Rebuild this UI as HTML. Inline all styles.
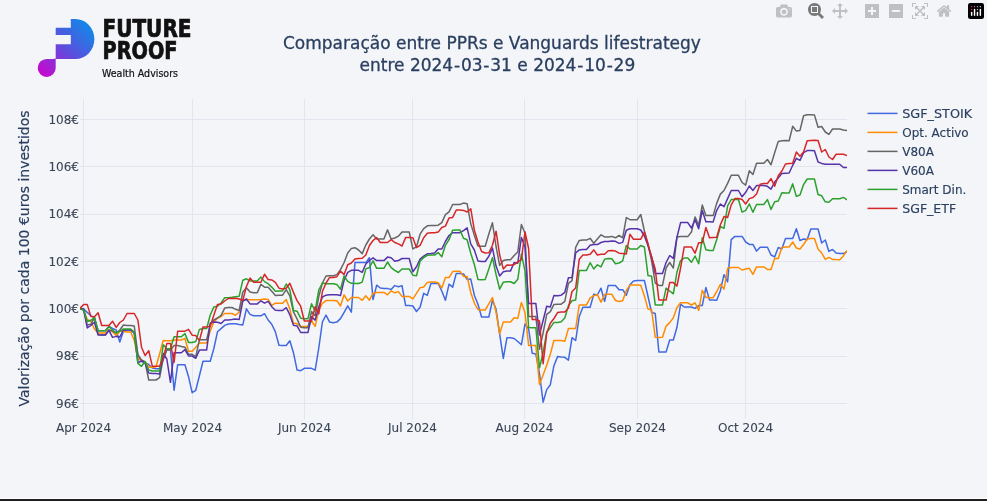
<!DOCTYPE html>
<html><head><meta charset="utf-8"><title>Comparação entre PPRs e Vanguards lifestrategy</title>
<style>
html,body{margin:0;padding:0;background:#f4f5f9;overflow:hidden}
svg{display:block}
.t{font-family:"DejaVu Sans","Liberation Sans",sans-serif}
</style></head><body>
<svg width="987" height="501" viewBox="0 0 987 501">
<defs>
<linearGradient id="lg" gradientUnits="userSpaceOnUse" x1="94" y1="19" x2="38" y2="77">
<stop offset="0" stop-color="#0096ea"/><stop offset="0.5" stop-color="#5b4fdd"/><stop offset="1" stop-color="#d400cc"/>
</linearGradient>
<clipPath id="pc"><rect x="80" y="99" width="767" height="320"/></clipPath>
</defs>
<rect x="0" y="0" width="987" height="501" fill="#f4f5f9"/>
<rect x="0" y="498" width="987" height="1" fill="#ffffff"/>
<rect x="0" y="499" width="987" height="2" fill="#1f1f1f"/>

<!-- logo -->
<g id="logo">
<path fill="url(#lg)" d="M70.8,19.1 H75.4 A19,19.95 0 0 1 75.4,59 H55.7 V44.3 H70.8 V34.9 H55.7 V27.8 H70.8 Z"/>
<path fill="url(#lg)" d="M55.7,58.4 V67.9 A9,9 0 1 1 46.7,58.9 H53 Z"/>
<text x="102.5" y="37" style="font-family:'DejaVu Sans Condensed','DejaVu Sans',sans-serif" font-weight="bold" font-size="24" fill="#111" stroke="#111" stroke-width="0.7" textLength="89" lengthAdjust="spacingAndGlyphs">FUTURE</text>
<text x="102.5" y="58.7" style="font-family:'DejaVu Sans Condensed','DejaVu Sans',sans-serif" font-weight="bold" font-size="24" fill="#111" stroke="#111" stroke-width="0.7" textLength="75" lengthAdjust="spacingAndGlyphs">PROOF</text>
<text x="102" y="76.5" style="font-family:'DejaVu Sans Condensed','DejaVu Sans',sans-serif" font-size="10" fill="#111" stroke="#111" stroke-width="0.2" textLength="76" lengthAdjust="spacingAndGlyphs">Wealth Advisors</text>
</g>

<!-- title -->
<g class="t" fill="#2a3f5f" stroke="#2a3f5f" stroke-width="0.3" font-size="17">
<text x="283" y="49">Comparação entre PPRs e Vanguards lifestrategy</text>
<text x="359.5" y="70.7">entre 2024<tspan dx="0.8">-</tspan><tspan dx="0.8">03</tspan><tspan dx="0.8">-</tspan><tspan dx="0.8">31 e 2024</tspan><tspan dx="0.8">-</tspan><tspan dx="0.8">10</tspan><tspan dx="0.8">-</tspan><tspan dx="0.8">29</tspan></text>
</g>

<!-- grid -->
<g stroke="#e2e5ee" stroke-width="1" fill="none">
<path d="M80,119.5H847M80,166.5H847M80,214.5H847M80,261.5H847M80,308.5H847M80,356.5H847M80,403.5H847"/>
<path d="M83.5,99V419M192.5,99V419M304.5,99V419M412.5,99V419M524.5,99V419M637.5,99V419M745.5,99V419"/>
</g>

<!-- y ticks -->
<g class="t" fill="#3b4556" stroke="#3b4556" stroke-width="0.1" font-size="12" text-anchor="end">
<text x="79" y="123.7">108€</text>
<text x="79" y="171">106€</text>
<text x="79" y="218.4">104€</text>
<text x="79" y="265.7">102€</text>
<text x="79" y="313">100€</text>
<text x="79" y="360.4">98€</text>
<text x="79" y="407.7">96€</text>
</g>
<!-- x ticks -->
<g class="t" fill="#3b4556" stroke="#3b4556" stroke-width="0.1" font-size="12" text-anchor="middle">
<text x="83.5" y="432">Apr 2024</text>
<text x="192.5" y="432">May 2024</text>
<text x="304.5" y="432">Jun 2024</text>
<text x="412.5" y="432">Jul 2024</text>
<text x="524.5" y="432">Aug 2024</text>
<text x="637.5" y="432">Sep 2024</text>
<text x="745.5" y="432">Oct 2024</text>
</g>
<!-- y title -->
<text class="t" fill="#2a3f5f" stroke="#2a3f5f" stroke-width="0.2" font-size="14" text-anchor="middle" transform="translate(29.4,258.5) rotate(-90)">Valorização por cada 100 €uros investidos</text>

<!-- traces -->
<g clip-path="url(#pc)" fill="none" stroke-width="1.5" stroke-linejoin="round">
<path d="M80.00,308.4 L83.62,309.0 L87.24,312.4 L90.85,315.6 L94.47,317.6 L98.09,330.7 L101.71,330.7 L105.33,330.7 L108.94,326.4 L112.56,328.5 L116.18,330.0 L119.80,342.0 L123.42,331.0 L127.03,330.0 L130.65,330.0 L134.27,333.0 L137.89,355.0 L141.50,361.0 L145.12,363.0 L148.74,364.5 L152.36,368.0 L155.98,368.7 L159.59,368.7 L163.21,360.0 L166.83,349.5 L170.45,349.5 L174.07,390.3 L177.68,364.7 L181.30,364.7 L184.92,364.7 L188.54,376.7 L192.16,392.7 L195.77,390.3 L199.39,375.7 L203.01,361.3 L206.63,361.3 L210.25,361.3 L213.86,348.5 L217.48,331.8 L221.10,328.6 L224.72,325.4 L228.33,324.0 L231.95,323.7 L235.57,323.7 L239.19,324.5 L242.81,324.9 L246.42,308.8 L250.04,314.4 L253.66,315.8 L257.28,315.8 L260.90,315.8 L264.51,313.7 L268.13,320.0 L271.75,324.2 L275.37,331.9 L278.99,345.3 L282.60,345.5 L286.22,345.5 L289.84,340.8 L293.46,352.7 L297.08,370.1 L300.69,370.7 L304.31,368.3 L307.93,368.3 L311.55,368.3 L315.17,370.1 L318.78,348.0 L322.40,322.0 L326.02,315.1 L329.64,322.1 L333.25,322.8 L336.87,322.1 L340.49,318.6 L344.11,312.3 L347.73,305.9 L351.34,312.2 L354.96,262.6 L358.58,262.6 L362.20,262.6 L365.82,262.6 L369.43,257.7 L373.05,299.6 L376.67,285.2 L380.29,288.0 L383.91,288.4 L387.52,288.4 L391.14,289.6 L394.76,285.6 L398.38,286.8 L402.00,285.6 L405.61,305.6 L409.23,305.6 L412.85,306.0 L416.47,311.5 L420.08,307.3 L423.70,293.3 L427.32,295.4 L430.94,283.5 L434.56,283.3 L438.17,283.5 L441.79,291.0 L445.41,300.3 L449.03,284.2 L452.65,287.2 L456.26,273.4 L459.88,273.4 L463.50,274.0 L467.12,279.4 L470.74,279.0 L474.35,295.2 L477.97,304.3 L481.59,317.0 L485.21,317.0 L488.83,317.0 L492.44,300.3 L496.06,309.3 L499.68,334.2 L503.30,358.4 L506.92,337.8 L510.53,337.8 L514.15,338.5 L517.77,341.5 L521.39,344.8 L525.00,324.0 L528.62,329.0 L532.24,353.3 L535.86,354.0 L539.48,373.5 L543.09,402.2 L546.71,389.6 L550.33,384.7 L553.95,365.7 L557.57,356.6 L561.18,357.0 L564.80,357.3 L568.42,360.1 L572.04,337.7 L575.66,340.5 L579.27,316.5 L582.89,307.3 L586.51,307.3 L590.13,307.3 L593.75,294.2 L597.36,295.0 L600.98,288.2 L604.60,301.3 L608.22,285.4 L611.83,285.4 L615.45,285.4 L619.07,289.7 L622.69,289.7 L626.31,295.3 L629.92,284.8 L633.54,280.9 L637.16,280.6 L640.78,280.6 L644.40,280.5 L648.01,296.5 L651.63,312.5 L655.25,313.5 L658.87,351.9 L662.49,351.9 L666.10,351.9 L669.72,340.0 L673.34,340.0 L676.96,327.3 L680.58,304.2 L684.19,307.0 L687.81,307.0 L691.43,307.0 L695.05,308.4 L698.67,305.6 L702.28,305.6 L705.90,287.5 L709.52,300.0 L713.14,300.0 L716.75,300.3 L720.37,290.7 L723.99,274.7 L727.61,281.9 L731.23,239.6 L734.84,236.4 L738.46,236.4 L742.08,236.4 L745.70,242.0 L749.32,244.4 L752.93,244.4 L756.55,251.1 L760.17,247.2 L763.79,247.2 L767.41,247.2 L771.02,255.0 L774.64,256.9 L778.26,247.5 L781.88,249.0 L785.50,238.5 L789.11,238.5 L792.73,238.5 L796.35,228.8 L799.97,240.5 L803.58,239.0 L807.20,239.5 L810.82,229.0 L814.44,229.0 L818.06,229.0 L821.67,243.0 L825.29,240.0 L828.91,251.4 L832.53,249.4 L836.15,253.1 L839.76,253.4 L843.38,253.4 L847.00,252.0" stroke="#4169e1"/>
<path d="M80.00,308.6 L83.62,310.0 L87.24,319.5 L90.85,321.5 L94.47,329.0 L98.09,333.1 L101.71,333.1 L105.33,333.1 L108.94,329.4 L112.56,332.0 L116.18,335.4 L119.80,331.0 L123.42,331.4 L127.03,332.0 L130.65,332.0 L134.27,340.0 L137.89,359.0 L141.50,360.3 L145.12,362.0 L148.74,367.0 L152.36,367.5 L155.98,366.8 L159.59,354.0 L163.21,340.4 L166.83,340.8 L170.45,340.8 L174.07,340.0 L177.68,340.0 L181.30,340.0 L184.92,338.4 L188.54,351.2 L192.16,351.2 L195.77,347.2 L199.39,343.0 L203.01,343.0 L206.63,343.0 L210.25,331.0 L213.86,322.0 L217.48,318.3 L221.10,316.5 L224.72,313.5 L228.33,313.5 L231.95,313.5 L235.57,315.2 L239.19,312.0 L242.81,299.7 L246.42,299.4 L250.04,299.7 L253.66,299.7 L257.28,299.7 L260.90,299.4 L264.51,299.0 L268.13,299.4 L271.75,305.3 L275.37,303.2 L278.99,303.3 L282.60,303.3 L286.22,299.6 L289.84,309.1 L293.46,323.1 L297.08,323.8 L300.69,326.4 L304.31,326.4 L307.93,326.4 L311.55,321.0 L315.17,326.4 L318.78,310.0 L322.40,303.5 L326.02,300.6 L329.64,300.4 L333.25,300.4 L336.87,300.8 L340.49,306.0 L344.11,294.8 L347.73,301.0 L351.34,297.5 L354.96,297.5 L358.58,297.5 L362.20,300.3 L365.82,295.8 L369.43,300.2 L373.05,293.2 L376.67,292.4 L380.29,292.4 L383.91,292.4 L387.52,294.8 L391.14,290.8 L394.76,292.8 L398.38,291.6 L402.00,296.4 L405.61,296.4 L409.23,296.4 L412.85,298.9 L416.47,293.3 L420.08,287.7 L423.70,287.0 L427.32,282.4 L430.94,281.9 L434.56,281.9 L438.17,282.8 L441.79,288.0 L445.41,277.6 L449.03,277.6 L452.65,271.6 L456.26,271.2 L459.88,271.2 L463.50,276.4 L467.12,276.4 L470.74,292.5 L474.35,303.1 L477.97,309.5 L481.59,310.0 L485.21,310.0 L488.83,303.8 L492.44,297.5 L496.06,312.1 L499.68,333.8 L503.30,321.9 L506.92,321.9 L510.53,321.9 L514.15,317.7 L517.77,318.4 L521.39,302.4 L525.00,312.8 L528.62,345.4 L532.24,345.6 L535.86,345.6 L539.48,384.5 L543.09,375.0 L546.71,365.2 L550.33,354.0 L553.95,340.5 L557.57,340.5 L561.18,340.5 L564.80,341.2 L568.42,328.6 L572.04,328.6 L575.66,328.6 L579.27,304.9 L582.89,304.9 L586.51,304.9 L590.13,297.8 L593.75,295.8 L597.36,294.6 L600.98,302.1 L604.60,294.6 L608.22,294.2 L611.83,294.3 L615.45,300.5 L619.07,301.5 L622.69,300.8 L626.31,290.4 L629.92,285.1 L633.54,285.1 L637.16,285.1 L640.78,285.3 L644.40,296.0 L648.01,309.1 L651.63,309.8 L655.25,337.2 L658.87,337.5 L662.49,337.2 L666.10,326.1 L669.72,322.6 L673.34,317.7 L676.96,307.5 L680.58,302.8 L684.19,302.8 L687.81,302.8 L691.43,305.0 L695.05,302.8 L698.67,310.5 L702.28,290.3 L705.90,297.2 L709.52,298.0 L713.14,297.5 L716.75,291.5 L720.37,284.3 L723.99,289.1 L727.61,268.3 L731.23,267.5 L734.84,267.5 L738.46,267.5 L742.08,270.0 L745.70,269.1 L749.32,268.3 L752.93,274.4 L756.55,266.9 L760.17,266.9 L763.79,266.9 L767.41,269.4 L771.02,269.4 L774.64,258.4 L778.26,258.4 L781.88,247.5 L785.50,247.0 L789.11,247.0 L792.73,242.0 L796.35,248.0 L799.97,249.0 L803.58,244.5 L807.20,239.0 L810.82,238.5 L814.44,238.5 L818.06,249.0 L821.67,253.0 L825.29,259.4 L828.91,257.4 L832.53,259.4 L836.15,259.6 L839.76,259.7 L843.38,255.9 L847.00,250.4" stroke="#ff8c00"/>
<path d="M80.00,308.6 L83.62,310.0 L87.24,325.1 L90.85,324.3 L94.47,317.7 L98.09,334.8 L101.71,335.1 L105.33,335.1 L108.94,330.3 L112.56,331.0 L116.18,333.0 L119.80,330.0 L123.42,325.0 L127.03,325.4 L130.65,325.4 L134.27,326.0 L137.89,355.0 L141.50,360.0 L145.12,362.0 L148.74,380.0 L152.36,380.0 L155.98,380.0 L159.59,377.7 L163.21,358.3 L166.83,350.0 L170.45,350.0 L174.07,345.6 L177.68,345.6 L181.30,346.4 L184.92,347.2 L188.54,354.3 L192.16,354.3 L195.77,356.7 L199.39,339.8 L203.01,339.8 L206.63,339.8 L210.25,324.6 L213.86,320.0 L217.48,318.0 L221.10,315.3 L224.72,308.1 L228.33,307.5 L231.95,307.5 L235.57,309.3 L239.19,310.5 L242.81,292.0 L246.42,287.8 L250.04,292.0 L253.66,292.7 L257.28,292.7 L260.90,284.4 L264.51,287.2 L268.13,287.2 L271.75,291.3 L275.37,295.5 L278.99,295.2 L282.60,295.2 L286.22,289.6 L289.84,295.8 L293.46,311.9 L297.08,318.9 L300.69,327.3 L304.31,327.8 L307.93,327.8 L311.55,311.5 L315.17,315.8 L318.78,296.6 L322.40,283.0 L326.02,276.0 L329.64,275.7 L333.25,275.7 L336.87,274.6 L340.49,269.7 L344.11,262.5 L347.73,253.0 L351.34,248.4 L354.96,247.7 L358.58,250.0 L362.20,253.6 L365.82,245.0 L369.43,239.0 L373.05,234.8 L376.67,239.0 L380.29,239.0 L383.91,239.0 L387.52,229.9 L391.14,239.0 L394.76,238.0 L398.38,236.2 L402.00,232.0 L405.61,232.0 L409.23,232.0 L412.85,248.9 L416.47,246.8 L420.08,234.2 L423.70,228.6 L427.32,225.8 L430.94,225.6 L434.56,225.6 L438.17,225.2 L441.79,222.6 L445.41,214.6 L449.03,211.8 L452.65,204.5 L456.26,204.5 L459.88,204.5 L463.50,203.1 L467.12,203.7 L470.74,223.6 L474.35,235.4 L477.97,245.9 L481.59,246.3 L485.21,246.3 L488.83,234.0 L492.44,222.8 L496.06,246.5 L499.68,265.4 L503.30,260.5 L506.92,259.7 L510.53,259.7 L514.15,255.5 L517.77,252.0 L521.39,224.5 L525.00,233.2 L528.62,316.6 L532.24,316.6 L535.86,316.6 L539.48,349.3 L543.09,333.0 L546.71,314.3 L550.33,311.6 L553.95,304.4 L557.57,304.2 L561.18,304.2 L564.80,301.4 L568.42,283.3 L572.04,280.7 L575.66,247.4 L579.27,240.4 L582.89,240.1 L586.51,240.1 L590.13,238.3 L593.75,243.2 L597.36,239.0 L600.98,234.8 L604.60,236.9 L608.22,236.9 L611.83,236.4 L615.45,237.8 L619.07,235.5 L622.69,237.8 L626.31,217.6 L629.92,219.7 L633.54,219.7 L637.16,219.7 L640.78,214.5 L644.40,231.0 L648.01,244.0 L651.63,261.0 L655.25,283.0 L658.87,285.4 L662.49,285.4 L666.10,268.0 L669.72,262.5 L673.34,268.1 L676.96,237.0 L680.58,236.6 L684.19,236.6 L687.81,236.6 L691.43,232.0 L695.05,216.9 L698.67,225.3 L702.28,205.0 L705.90,215.5 L709.52,215.5 L713.14,215.6 L716.75,203.1 L720.37,194.1 L723.99,190.5 L727.61,183.4 L731.23,175.3 L734.84,175.3 L738.46,175.3 L742.08,182.5 L745.70,185.1 L749.32,170.8 L752.93,174.5 L756.55,163.3 L760.17,163.3 L763.79,163.3 L767.41,159.5 L771.02,164.7 L774.64,152.8 L778.26,141.5 L781.88,140.8 L785.50,140.4 L789.11,140.8 L792.73,126.2 L796.35,131.1 L799.97,130.4 L803.58,115.7 L807.20,114.7 L810.82,114.7 L814.44,114.9 L818.06,127.3 L821.67,126.5 L825.29,132.0 L828.91,134.4 L832.53,129.0 L836.15,129.0 L839.76,129.0 L843.38,130.0 L847.00,130.4" stroke="#666666"/>
<path d="M80.00,308.4 L83.62,308.8 L87.24,327.9 L90.85,325.5 L94.47,322.3 L98.09,334.7 L101.71,335.1 L105.33,335.1 L108.94,330.3 L112.56,337.4 L116.18,336.4 L119.80,337.0 L123.42,330.0 L127.03,330.0 L130.65,330.0 L134.27,333.0 L137.89,362.7 L141.50,361.0 L145.12,363.0 L148.74,373.0 L152.36,373.5 L155.98,373.5 L159.59,374.0 L163.21,353.5 L166.83,359.0 L170.45,382.3 L174.07,352.7 L177.68,352.7 L181.30,352.7 L184.92,349.6 L188.54,356.0 L192.16,356.0 L195.77,358.3 L199.39,350.1 L203.01,350.1 L206.63,350.1 L210.25,323.0 L213.86,322.0 L217.48,322.2 L221.10,323.5 L224.72,320.0 L228.33,320.0 L231.95,319.5 L235.57,318.9 L239.19,319.4 L242.81,301.1 L246.42,299.0 L250.04,303.9 L253.66,303.9 L257.28,303.9 L260.90,300.8 L264.51,303.2 L268.13,301.4 L271.75,306.7 L275.37,310.2 L278.99,310.5 L282.60,310.5 L286.22,307.7 L289.84,314.7 L293.46,325.2 L297.08,325.9 L300.69,332.5 L304.31,332.5 L307.93,332.5 L311.55,316.8 L315.17,320.1 L318.78,307.0 L322.40,297.0 L326.02,295.2 L329.64,294.8 L333.25,294.8 L336.87,294.8 L340.49,295.5 L344.11,280.2 L347.73,272.4 L351.34,270.3 L354.96,270.3 L358.58,270.3 L362.20,272.4 L365.82,264.0 L369.43,260.5 L373.05,257.8 L376.67,260.6 L380.29,260.6 L383.91,260.6 L387.52,257.1 L391.14,257.8 L394.76,261.3 L398.38,260.6 L402.00,258.5 L405.61,258.5 L409.23,258.5 L412.85,271.7 L416.47,266.8 L420.08,259.1 L423.70,256.1 L427.32,253.8 L430.94,253.5 L434.56,253.1 L438.17,249.0 L441.79,249.0 L445.41,241.5 L449.03,235.5 L452.65,232.7 L456.26,232.7 L459.88,232.7 L463.50,230.6 L467.12,227.8 L470.74,243.9 L474.35,250.0 L477.97,261.0 L481.59,261.6 L485.21,261.5 L488.83,256.3 L492.44,248.0 L496.06,266.1 L499.68,275.9 L503.30,271.7 L506.92,271.0 L510.53,270.9 L514.15,262.5 L517.77,263.2 L521.39,237.4 L525.00,247.1 L528.62,303.6 L532.24,303.6 L535.86,303.6 L539.48,334.9 L543.09,320.5 L546.71,306.2 L550.33,307.0 L553.95,295.4 L557.57,295.8 L561.18,295.2 L564.80,292.4 L568.42,277.7 L572.04,277.5 L575.66,253.0 L579.27,249.9 L582.89,249.5 L586.51,249.5 L590.13,245.3 L593.75,244.6 L597.36,244.6 L600.98,242.5 L604.60,241.5 L608.22,241.5 L611.83,241.0 L615.45,241.3 L619.07,243.4 L622.69,242.4 L626.31,230.2 L629.92,228.8 L633.54,228.8 L637.16,228.8 L640.78,230.0 L644.40,236.0 L648.01,245.7 L651.63,256.9 L655.25,273.5 L658.87,273.5 L662.49,273.5 L666.10,262.5 L669.72,255.5 L673.34,258.3 L676.96,237.2 L680.58,222.6 L684.19,222.6 L687.81,222.6 L691.43,228.0 L695.05,219.7 L698.67,228.8 L702.28,210.6 L705.90,221.8 L709.52,221.8 L713.14,221.9 L716.75,210.3 L720.37,204.0 L723.99,206.7 L727.61,198.6 L731.23,190.5 L734.84,190.5 L738.46,190.5 L742.08,196.8 L745.70,192.3 L749.32,186.0 L752.93,190.5 L756.55,185.6 L760.17,185.6 L763.79,185.6 L767.41,186.3 L771.02,189.1 L774.64,182.1 L778.26,178.0 L781.88,173.4 L785.50,173.2 L789.11,173.0 L792.73,165.3 L796.35,158.3 L799.97,160.4 L803.58,152.7 L807.20,150.6 L810.82,150.6 L814.44,150.8 L818.06,162.0 L821.67,163.4 L825.29,164.3 L828.91,164.3 L832.53,164.3 L836.15,164.3 L839.76,164.3 L843.38,167.5 L847.00,167.5" stroke="#5533aa"/>
<path d="M80.00,308.8 L83.62,310.0 L87.24,321.5 L90.85,320.3 L94.47,317.6 L98.09,330.7 L101.71,330.7 L105.33,330.7 L108.94,326.4 L112.56,330.0 L116.18,333.0 L119.80,331.4 L123.42,329.0 L127.03,329.0 L130.65,329.0 L134.27,332.0 L137.89,363.3 L141.50,366.3 L145.12,361.5 L148.74,370.0 L152.36,371.0 L155.98,371.0 L159.59,371.0 L163.21,344.8 L166.83,348.8 L170.45,348.8 L174.07,336.8 L177.68,336.8 L181.30,336.8 L184.92,333.6 L188.54,342.4 L192.16,342.4 L195.77,341.6 L199.39,329.4 L203.01,328.6 L206.63,328.6 L210.25,315.0 L213.86,306.9 L217.48,306.3 L221.10,303.0 L224.72,297.7 L228.33,297.7 L231.95,297.3 L235.57,296.7 L239.19,296.2 L242.81,280.2 L246.42,278.8 L250.04,280.9 L253.66,280.9 L257.28,280.9 L260.90,277.1 L264.51,281.6 L268.13,283.7 L271.75,287.1 L275.37,291.3 L278.99,291.0 L282.60,291.0 L286.22,284.0 L289.84,289.6 L293.46,310.5 L297.08,311.2 L300.69,318.2 L304.31,318.7 L307.93,318.7 L311.55,303.8 L315.17,311.0 L318.78,290.0 L322.40,283.0 L326.02,283.7 L329.64,283.7 L333.25,283.7 L336.87,284.4 L340.49,289.2 L344.11,276.0 L347.73,281.4 L351.34,283.3 L354.96,283.5 L358.58,283.5 L362.20,282.1 L365.82,268.9 L369.43,267.5 L373.05,260.8 L376.67,268.3 L380.29,268.3 L383.91,268.3 L387.52,262.0 L391.14,267.6 L394.76,270.4 L398.38,272.5 L402.00,269.0 L405.61,269.0 L409.23,269.0 L412.85,275.2 L416.47,275.8 L420.08,261.2 L423.70,257.5 L427.32,255.3 L430.94,254.9 L434.56,255.1 L438.17,252.6 L441.79,256.7 L445.41,245.3 L449.03,239.7 L452.65,230.2 L456.26,229.9 L459.88,229.9 L463.50,238.3 L467.12,239.7 L470.74,253.2 L474.35,264.5 L477.97,279.4 L481.59,279.8 L485.21,279.5 L488.83,268.9 L492.44,257.7 L496.06,274.5 L499.68,289.2 L503.30,282.2 L506.92,281.8 L510.53,281.8 L514.15,283.5 L517.77,279.3 L521.39,254.1 L525.00,270.9 L528.62,327.6 L532.24,327.7 L535.86,327.7 L539.48,367.8 L543.09,352.9 L546.71,332.2 L550.33,327.7 L553.95,322.4 L557.57,322.4 L561.18,321.7 L564.80,318.0 L568.42,305.6 L572.04,300.7 L575.66,300.0 L579.27,270.4 L582.89,270.4 L586.51,270.4 L590.13,262.7 L593.75,269.0 L597.36,264.8 L600.98,266.9 L604.60,259.2 L608.22,258.5 L611.83,258.8 L615.45,263.7 L619.07,263.0 L622.69,260.9 L626.31,245.5 L629.92,249.0 L633.54,249.0 L637.16,249.0 L640.78,245.5 L644.40,247.0 L648.01,275.6 L651.63,276.3 L655.25,304.9 L658.87,304.9 L662.49,304.9 L666.10,288.2 L669.72,291.0 L673.34,293.8 L676.96,272.0 L680.58,260.5 L684.19,258.1 L687.81,258.1 L691.43,262.3 L695.05,256.0 L698.67,263.7 L702.28,237.8 L705.90,249.7 L709.52,250.4 L713.14,250.4 L716.75,239.5 L720.37,226.5 L723.99,228.3 L727.61,205.8 L731.23,199.5 L734.84,199.5 L738.46,199.5 L742.08,212.1 L745.70,210.3 L749.32,204.0 L752.93,212.2 L756.55,204.5 L760.17,204.5 L763.79,204.5 L767.41,199.6 L771.02,209.4 L774.64,201.7 L778.26,201.0 L781.88,192.8 L785.50,193.0 L789.11,193.0 L792.73,183.9 L796.35,196.4 L799.97,195.0 L803.58,184.6 L807.20,179.0 L810.82,179.0 L814.44,179.0 L818.06,194.5 L821.67,195.8 L825.29,201.8 L828.91,202.2 L832.53,198.8 L836.15,198.8 L839.76,198.8 L843.38,197.4 L847.00,199.8" stroke="#2ca02c"/>
<path d="M80.00,308.4 L83.62,304.4 L87.24,304.4 L90.85,316.4 L94.47,316.8 L98.09,312.8 L101.71,325.5 L105.33,325.5 L108.94,325.5 L112.56,321.2 L116.18,327.4 L119.80,322.5 L123.42,320.0 L127.03,313.5 L130.65,313.5 L134.27,313.5 L137.89,320.0 L141.50,347.2 L145.12,355.5 L148.74,350.7 L152.36,366.3 L155.98,366.3 L159.59,366.3 L163.21,358.3 L166.83,343.6 L170.45,343.6 L174.07,362.3 L177.68,331.2 L181.30,331.2 L184.92,331.2 L188.54,329.3 L192.16,335.2 L195.77,335.6 L199.39,340.6 L203.01,327.0 L206.63,327.0 L210.25,326.2 L213.86,315.0 L217.48,304.5 L221.10,303.9 L224.72,301.0 L228.33,298.5 L231.95,298.5 L235.57,298.3 L239.19,299.0 L242.81,300.4 L246.42,286.5 L250.04,278.1 L253.66,282.3 L257.28,282.3 L260.90,282.3 L264.51,274.3 L268.13,279.5 L271.75,279.9 L275.37,282.3 L278.99,288.2 L282.60,288.9 L286.22,288.2 L289.84,283.3 L293.46,292.4 L297.08,300.7 L300.69,306.2 L304.31,321.0 L307.93,321.0 L311.55,321.0 L315.17,306.7 L318.78,313.9 L322.40,291.5 L326.02,283.0 L329.64,277.4 L333.25,277.4 L336.87,276.7 L340.49,271.1 L344.11,274.6 L347.73,264.7 L351.34,263.0 L354.96,259.1 L358.58,258.4 L362.20,258.2 L365.82,255.0 L369.43,245.5 L373.05,240.5 L376.67,237.6 L380.29,242.5 L383.91,242.5 L387.52,242.5 L391.14,239.7 L394.76,242.5 L398.38,243.9 L402.00,246.0 L405.61,237.6 L409.23,237.6 L412.85,237.7 L416.47,247.5 L420.08,245.4 L423.70,237.7 L427.32,233.3 L430.94,232.8 L434.56,232.8 L438.17,232.1 L441.79,227.5 L445.41,226.1 L449.03,218.1 L452.65,217.4 L456.26,210.1 L459.88,210.1 L463.50,210.4 L467.12,212.0 L470.74,208.7 L474.35,230.2 L477.97,242.0 L481.59,251.5 L485.21,253.0 L488.83,252.8 L492.44,245.2 L496.06,231.2 L499.68,255.0 L503.30,268.9 L506.92,265.0 L510.53,265.3 L514.15,264.6 L517.77,261.8 L521.39,259.7 L525.00,231.8 L528.62,248.5 L532.24,319.6 L535.86,319.6 L539.48,321.0 L543.09,363.8 L546.71,333.1 L550.33,323.2 L553.95,318.5 L557.57,312.6 L561.18,311.9 L564.80,311.9 L568.42,308.0 L572.04,291.5 L575.66,288.0 L579.27,259.2 L582.89,255.0 L586.51,255.0 L590.13,254.3 L593.75,249.9 L597.36,255.0 L600.98,254.3 L604.60,254.3 L608.22,250.8 L611.83,250.4 L615.45,251.1 L619.07,253.2 L622.69,253.5 L626.31,253.9 L629.92,234.3 L633.54,239.2 L637.16,239.2 L640.78,239.2 L644.40,232.0 L648.01,244.3 L651.63,257.0 L655.25,269.0 L658.87,300.0 L662.49,300.0 L666.10,300.0 L669.72,282.6 L673.34,282.6 L676.96,286.0 L680.58,268.0 L684.19,246.9 L687.81,246.9 L691.43,246.9 L695.05,253.2 L698.67,242.7 L702.28,242.7 L705.90,227.4 L709.52,237.8 L713.14,237.5 L716.75,237.2 L720.37,224.7 L723.99,216.6 L727.61,217.5 L731.23,204.9 L734.84,198.6 L738.46,198.6 L742.08,199.5 L745.70,204.0 L749.32,198.6 L752.93,197.5 L756.55,194.0 L760.17,184.2 L763.79,183.5 L767.41,183.5 L771.02,178.6 L774.64,186.3 L778.26,175.8 L781.88,171.0 L785.50,164.0 L789.11,163.6 L792.73,163.2 L796.35,152.0 L799.97,156.2 L803.58,152.0 L807.20,140.8 L810.82,140.4 L814.44,140.3 L818.06,140.6 L821.67,152.0 L825.29,149.5 L828.91,157.0 L832.53,159.5 L836.15,154.3 L839.76,154.3 L843.38,154.3 L847.00,155.5" stroke="#d62728"/>
</g>

<!-- legend -->
<g class="t" font-size="12" fill="#2a3f5f">
<g stroke="#2a3f5f" stroke-width="0.15">
<path d="M867.5,113.4h30" stroke="#4169e1" stroke-width="1.5"/>
<path d="M867.5,132.4h30" stroke="#ff8c00" stroke-width="1.5"/>
<path d="M867.5,151.4h30" stroke="#666666" stroke-width="1.5"/>
<path d="M867.5,170.4h30" stroke="#5533aa" stroke-width="1.5"/>
<path d="M867.5,189.4h30" stroke="#2ca02c" stroke-width="1.5"/>
<path d="M867.5,208.4h30" stroke="#d62728" stroke-width="1.5"/>
<text x="902.2" y="117.7" textLength="70" lengthAdjust="spacingAndGlyphs">SGF_STOIK</text>
<text x="902.2" y="136.7">Opt. Activo</text>
<text x="902.2" y="155.7">V80A</text>
<text x="902.2" y="174.7">V60A</text>
<text x="902.2" y="193.7">Smart Din.</text>
<text x="902.2" y="212.7" textLength="54" lengthAdjust="spacingAndGlyphs">SGF_ETF</text>
</g>
</g>

<!-- modebar -->
<g id="modebar">
<svg viewBox="0 0 1000 1000" x="776" y="3" width="16" height="16"><path d="m500 450c-83 0-150-67-150-150 0-83 67-150 150-150 83 0 150 67 150 150 0 83-67 150-150 150z m400 150h-120c-16 0-34 13-39 29l-31 93c-6 15-23 28-40 28h-340c-16 0-34-13-39-28l-31-94c-6-15-23-28-40-28h-120c-55 0-100-45-100-100v-450c0-55 45-100 100-100h800c55 0 100 45 100 100v450c0 55-45 100-100 100z m-400-550c-138 0-250 112-250 250 0 138 112 250 250 250 138 0 250-112 250-250 0-138-112-250-250-250z m365 380c-19 0-35 16-35 35 0 19 16 35 35 35 19 0 35-16 35-35 0-19-16-35-35-35z" transform="matrix(1 0 0 -1 0 850)" fill="rgba(68,68,68,0.3)"></path></svg>
<svg viewBox="0 0 1000 1000" x="808" y="3" width="16" height="16"><path d="m1000-25l-250 251c40 63 63 138 63 218 0 224-182 406-407 406-224 0-406-182-406-406s183-406 407-406c80 0 155 22 218 62l250-250 125 125z m-812 250l0 438 437 0 0-438-437 0z m62 375l313 0 0-312-313 0 0 312z" transform="matrix(1 0 0 -1 0 850)" fill="rgba(68,68,68,0.7)"></path></svg>
<svg viewBox="0 0 1000 1000" x="832" y="3" width="16" height="16"><path d="m1000 350l-187 188 0-125-250 0 0 250 125 0-188 187-187-187 125 0 0-250-250 0 0 125-188-188 186-187 0 125 252 0 0-250-125 0 187-188 188 188-125 0 0 250 250 0 0-126 187 188z" transform="matrix(1 0 0 -1 0 850)" fill="rgba(68,68,68,0.3)"></path></svg>
<svg viewBox="0 0 875 1000" x="864" y="3" width="16" height="16"><path d="m1 787l0-875 875 0 0 875-875 0z m687-500l-187 0 0-187-125 0 0 187-188 0 0 125 188 0 0 187 125 0 0-187 187 0 0-125z" transform="matrix(1 0 0 -1 0 850)" fill="rgba(68,68,68,0.3)"></path></svg>
<svg viewBox="0 0 875 1000" x="888" y="3" width="16" height="16"><path d="m0 788l0-876 875 0 0 876-875 0z m688-500l-500 0 0 125 500 0 0-125z" transform="matrix(1 0 0 -1 0 850)" fill="rgba(68,68,68,0.3)"></path></svg>
<svg viewBox="0 0 1000 1000" x="912" y="3" width="16" height="16"><path d="m250 850l-187 0-63 0 0-62 0-188 63 0 0 188 187 0 0 62z m688 0l-188 0 0-62 188 0 0-188 62 0 0 188 0 62-62 0z m-875-938l0 188-63 0 0-188 0-62 63 0 187 0 0 62-187 0z m875 188l0-188-188 0 0-62 188 0 62 0 0 62 0 188-62 0z m-125 188l-1 0-93-94-156 156 156 156 92-93 2 0 0 250-250 0 0-2 93-92-156-156-156 156 94 92 0 2-250 0 0-250 0 0 93 93 157-156-157-156-93 94 0 0 0-250 250 0 0 0-94 93 156 157 156-157-93-93 0 0 250 0 0 250z" transform="matrix(1 0 0 -1 0 850)" fill="rgba(68,68,68,0.3)"></path></svg>
<svg viewBox="0 0 928.6 1000" x="936" y="3" width="16" height="16"><path d="m786 296v-267q0-15-11-26t-25-10h-214v214h-143v-214h-214q-15 0-25 10t-11 26v267q0 1 0 2t0 2l321 264 321-264q1-1 1-4z m124 39l-34-41q-5-5-12-6h-2q-7 0-12 3l-386 322-386-322q-7-4-13-4-7 2-12 7l-35 41q-4 5-3 13t6 12l401 334q18 15 42 15t43-15l136-114v109q0 8 5 13t13 5h107q8 0 13-5t5-13v-227l122-102q5-5 6-12t-4-13z" transform="matrix(1 0 0 -1 0 850)" fill="rgba(68,68,68,0.3)"></path></svg>
<svg viewBox="0 0 132 132" x="968" y="3" width="16" height="16">  <g>  <rect fill="#000" x="0" y="0" width="132" height="132" rx="18" ry="18"></rect>  <circle fill="#9EF" cx="102" cy="30" r="6"></circle>  <circle fill="#BAC" cx="78" cy="30" r="6"></circle>  <circle fill="#BAC" cx="78" cy="54" r="6"></circle>  <circle fill="#D69" cx="54" cy="30" r="6"></circle>  <circle fill="#F26" cx="30" cy="30" r="6"></circle>  <circle fill="#F26" cx="30" cy="54" r="6"></circle>  <path fill="#FFF" d="M30,72a6,6,0,0,0-6,6v24a6,6,0,0,0,12,0V78A6,6,0,0,0,30,72Z"></path>  <path fill="#FFF" d="M78,72a6,6,0,0,0-6,6v24a6,6,0,0,0,12,0V78A6,6,0,0,0,78,72Z"></path>  <path fill="#FFF" d="M54,48a6,6,0,0,0-6,6v48a6,6,0,0,0,12,0V54A6,6,0,0,0,54,48Z"></path>  <path fill="#FFF" d="M102,48a6,6,0,0,0-6,6v48a6,6,0,0,0,12,0V54A6,6,0,0,0,102,48Z"></path> </g></svg>
</g>
</svg>
</body></html>
